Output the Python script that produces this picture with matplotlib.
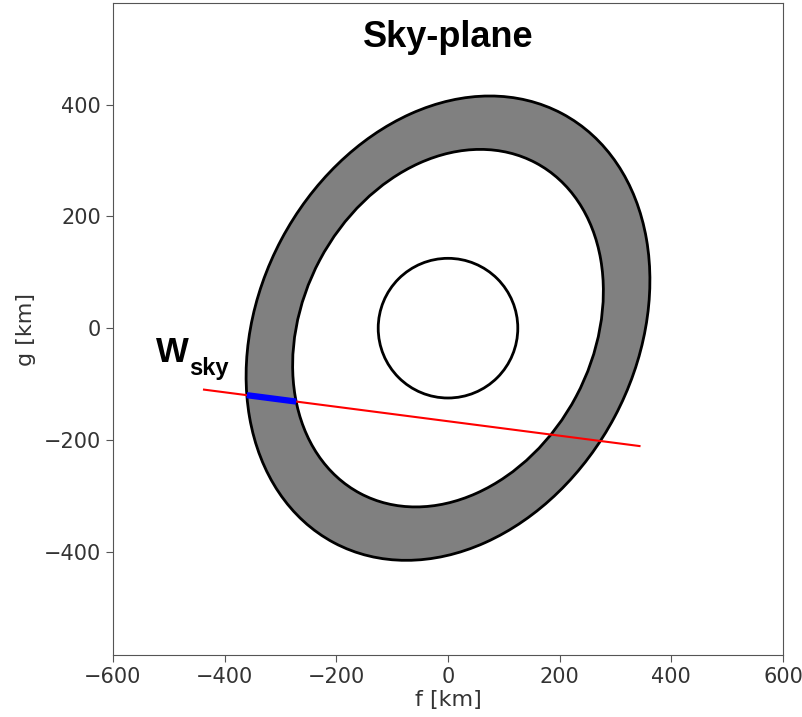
import numpy as np
import matplotlib
matplotlib.use("Agg")
import matplotlib.pyplot as plt
from matplotlib.patches import Ellipse, Circle

# sky-plane geometry (km)
f_lim = [-600, 600]
g_lim = [-585, 582]
f_ticks = [-600, -400, -200, 0, 200, 400, 600]
g_ticks = [-400, -200, 0, 200, 400]

ring_center = (0, 0)
ring_outer = (435, 338)      # semi-axes of outer edge
ring_inner = (335, 260)      # semi-axes of inner edge
ring_angle = 62              # deg, major axis from f axis
body_radius = 125

chord_f = [-437, 343]
chord_g = [-110, -211]


def first_hit(p0, d, a, b, ang):
    # smallest t where p0 + t*d meets the rotated ellipse
    c, s = np.cos(np.radians(ang)), np.sin(np.radians(ang))
    u0 = p0[0] * c + p0[1] * s
    v0 = -p0[0] * s + p0[1] * c
    du = d[0] * c + d[1] * s
    dv = -d[0] * s + d[1] * c
    A = du**2 / a**2 + dv**2 / b**2
    B = 2 * (u0 * du / a**2 + v0 * dv / b**2)
    C = u0**2 / a**2 + v0**2 / b**2 - 1
    return (-B - np.sqrt(B**2 - 4 * A * C)) / (2 * A)


p0 = np.array([chord_f[0], chord_g[0]], float)
d = np.array([chord_f[1] - chord_f[0], chord_g[1] - chord_g[0]], float)
t_out = first_hit(p0, d, *ring_outer, ring_angle)
t_in = first_hit(p0, d, *ring_inner, ring_angle)
w_sky = np.array([p0 + t_out * d, p0 + t_in * d])

fig = plt.figure(figsize=(8.03, 7.17), dpi=100)
ax = fig.add_axes([113 / 803, 62 / 717, 670 / 803, 652 / 717])

ax.add_patch(Ellipse(ring_center, 2 * ring_outer[0], 2 * ring_outer[1], angle=ring_angle,
                     facecolor="gray", edgecolor="black", lw=2))
ax.add_patch(Ellipse(ring_center, 2 * ring_inner[0], 2 * ring_inner[1], angle=ring_angle,
                     facecolor="white", edgecolor="black", lw=2))
ax.add_patch(Circle(ring_center, body_radius, facecolor="none", edgecolor="black", lw=2))

ax.plot(chord_f, chord_g, color="red", lw=1.5)
ax.plot(w_sky[:, 0], w_sky[:, 1], color="blue", lw=4.5, solid_capstyle="butt")

ax.text(0, 504, "Sky-plane", ha="center", va="baseline", fontsize=26,
        fontweight="bold", family="Liberation Sans")
ax.text(-523, -60, "W", ha="left", va="baseline", fontsize=25,
        fontweight="bold", family="Liberation Sans")
ax.text(-463, -84, "sky", ha="left", va="baseline", fontsize=17,
        fontweight="bold", family="Liberation Sans")

ax.set_xlim(f_lim)
ax.set_ylim(g_lim)
ax.set_xticks(f_ticks)
ax.set_yticks(g_ticks)
ax.set_xlabel("f [km]", fontsize=16, color="#333333", labelpad=2)
ax.set_ylabel("g [km]", fontsize=16, color="#333333", labelpad=6)
ax.tick_params(labelsize=15, colors="#555555", labelcolor="#333333", length=5)
for sp in ax.spines.values():
    sp.set_color("#555555")

fig.savefig("out.png", dpi=100)
